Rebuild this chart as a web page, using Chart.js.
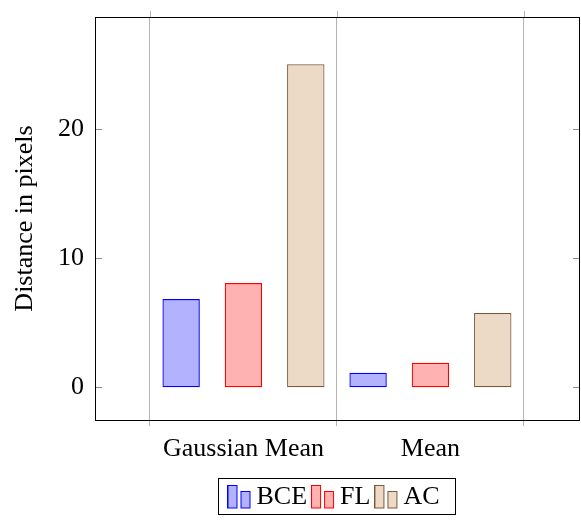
<!DOCTYPE html>
<html>
<head>
<meta charset="utf-8">
<script src="https://cdn.jsdelivr.net/npm/chart.js@4/dist/chart.umd.min.js"></script>
<style>
  html, body { margin: 0; padding: 0; background: #fff; }
</style>
</head>
<body>
<canvas id="chart" width="581" height="520"></canvas>
<script>
const categories = ['Gaussian Mean', 'Mean'];
const seriesNames = ['BCE', 'FL', 'AC'];
const bceValues = [6.83, 1.13];
const flValues = [8.07, 1.9];
const acValues = [25.0, 5.75];
const yTickValues = [0, 10, 20];
const xGridValues = [-0.5, 0.5, 1.5];

const fills = ['rgba(0, 0, 255, 0.3)', 'rgba(255, 0, 0, 0.3)', '#ecd9c6'];
const borders = ['#0000ff', '#ff0000', '#7a5a3a'];
const FONT = "'Liberation Serif', 'Times New Roman', serif";

// pgfplots style legend icon: two small bars side by side
const makeIcon = (fill, stroke) => {
  const c = document.createElement('canvas');
  c.width = 24;
  c.height = 24;
  const g = c.getContext('2d');
  g.fillStyle = fill;
  g.strokeStyle = stroke;
  g.lineWidth = 1;
  g.fillRect(0.5, 0.5, 9, 22.5);
  g.strokeRect(0.5, 0.5, 9, 22.5);
  g.fillRect(13.5, 6.5, 9, 16.5);
  g.strokeRect(13.5, 6.5, 9, 16.5);
  return c;
};

const toPoints = (values) => values.map((v, i) => ({ x: i, y: v }));

const framePlugin = {
  id: 'frame',
  afterDatasetsDraw(chart) {
    const { ctx, chartArea: a, scales: { x, y } } = chart;
    ctx.save();
    ctx.lineWidth = 1;
    ctx.strokeStyle = '#8c8c8c';
    ctx.beginPath();
    yTickValues.forEach(v => {
      const py = Math.round(y.getPixelForValue(v)) + 0.5;
      ctx.moveTo(a.left, py);
      ctx.lineTo(a.left + 7, py);
      ctx.moveTo(a.right - 7, py);
      ctx.lineTo(a.right, py);
    });
    ctx.stroke();
    ctx.strokeStyle = '#b3b3b3';
    ctx.beginPath();
    xGridValues.forEach(v => {
      const px = Math.round(x.getPixelForValue(v)) + 0.5;
      ctx.moveTo(px, a.top - 6);
      ctx.lineTo(px, a.top);
    });
    ctx.stroke();
    ctx.strokeStyle = '#000';
    ctx.strokeRect(Math.round(a.left) + 0.5, Math.round(a.top) + 0.5,
      Math.round(a.right - a.left) - 1, Math.round(a.bottom - a.top));
    ctx.restore();
  },
  afterDraw(chart) {
    const boxes = chart.legend.legendHitBoxes;
    if (!boxes || !boxes.length) return;
    const first = boxes[0];
    const last = boxes[boxes.length - 1];
    const { ctx } = chart;
    ctx.save();
    ctx.strokeStyle = '#000';
    ctx.lineWidth = 1;
    const left = Math.round(first.left - 17) + 0.5;
    const right = Math.round(last.left + last.width + 15) + 0.5;
    const top = Math.round(first.top - 6) + 0.5;
    ctx.strokeRect(left, top, right - left, 36);
    ctx.restore();
  }
};

const valueSets = [bceValues, flValues, acValues];

new Chart(document.getElementById('chart'), {
  type: 'bar',
  data: {
    datasets: seriesNames.map((name, i) => ({
      label: name,
      data: toPoints(valueSets[i]),
      backgroundColor: fills[i],
      borderColor: borders[i],
      borderWidth: 1.2,
      borderSkipped: false,
      pointStyle: makeIcon(fills[i], borders[i]),
      categoryPercentage: 2,
      barPercentage: 0.6,
    })),
  },
  options: {
    responsive: false,
    animation: false,
    devicePixelRatio: 1,
    layout: {
      padding: { top: 17, right: 1, left: 0, bottom: 0 },
    },
    plugins: {
      tooltip: { enabled: false },
      legend: {
        position: 'bottom',
        fullSize: false,
        labels: {
          usePointStyle: true,
          pointStyleWidth: 8,
          padding: 12,
          color: '#000',
          font: { family: FONT, size: 26 },
        },
      },
    },
    scales: {
      x: {
        type: 'linear',
        offset: false,
        min: -0.794,
        max: 1.8,
        afterBuildTicks: (scale) => {
          scale.ticks = [-0.5, 0, 0.5, 1, 1.5].map(v => ({ value: v }));
        },
        afterFit: (scale) => {
          scale.height = 52;
          scale.paddingLeft = 0;
          scale.paddingRight = 0;
        },
        border: { display: false },
        grid: {
          offset: false,
          color: (ctx) => (Number.isInteger(ctx.tick && ctx.tick.value) ? 'rgba(0,0,0,0)' : '#b3b3b3'),
          tickLength: 6,
          lineWidth: 1,
        },
        ticks: {
          autoSkip: false,
          maxRotation: 0,
          padding: 8,
          color: '#000',
          font: { family: FONT, size: 26 },
          callback: (value) => (Number.isInteger(value) ? categories[value] : ''),
        },
      },
      y: {
        min: -2.53,
        max: 28.65,
        afterBuildTicks: (scale) => {
          scale.ticks = yTickValues.map(v => ({ value: v }));
        },
        afterFit: (scale) => {
          scale.width = 95;
          scale.paddingTop = 0;
          scale.paddingBottom = 0;
        },
        border: { display: false },
        grid: { display: false, drawTicks: false },
        ticks: {
          padding: 11,
          color: '#000',
          font: { family: FONT, size: 26 },
        },
        title: {
          display: true,
          text: 'Distance in pixels',
          color: '#000',
          padding: { top: 10, bottom: 0 },
          font: { family: FONT, size: 26 },
        },
      },
    },
  },
  plugins: [framePlugin],
});
</script>
</body>
</html>
